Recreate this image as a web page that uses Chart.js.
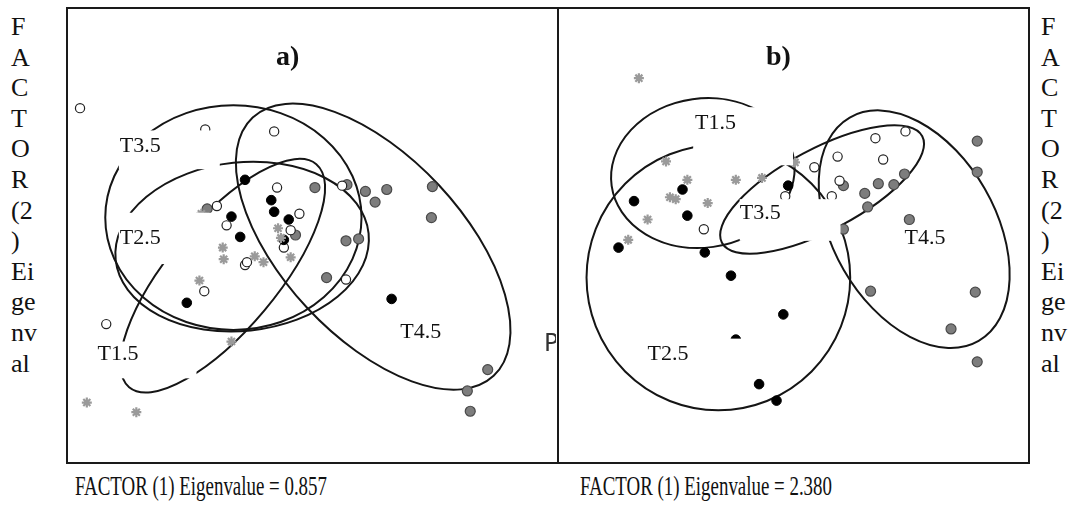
<!DOCTYPE html>
<html><head><meta charset="utf-8">
<script src="https://cdn.jsdelivr.net/npm/chart.js@4/dist/chart.umd.min.js"></script>
<style>
html,body{margin:0;padding:0;background:#fff;width:1086px;height:513px;overflow:hidden;font-family:'Liberation Serif','Times New Roman',serif;color:#111;}
canvas{position:absolute;}
#frame{position:absolute;left:66px;top:7px;width:960px;height:453px;border:2px solid #1a1a1a;z-index:5;}
#divider{position:absolute;left:557px;top:7px;width:2px;height:457px;background:#1a1a1a;z-index:5;}
.vcol{position:absolute;top:12px;font-size:26px;line-height:30.6px;white-space:pre;}
.xlab{position:absolute;top:470px;font-size:27px;line-height:32px;white-space:nowrap;transform:scaleX(0.70);transform-origin:left top;}
#pmark{position:absolute;left:544px;top:328px;width:12px;height:30px;overflow:hidden;font-family:'DejaVu Sans',sans-serif;font-size:24px;line-height:30px;color:#333;}
</style>
</head><body>
<canvas id="ca" width="491" height="455" style="left:67px;top:8px;"></canvas>
<canvas id="cb" width="471" height="455" style="left:558px;top:8px;"></canvas>
<div id="frame"></div><div id="divider"></div>
<div id="pmark">P</div>
<div class="vcol" id="vl" style="left:11px;"></div>
<div class="vcol" id="vr" style="left:1041px;"></div>
<div class="xlab" id="xa" style="left:75px;"></div>
<div class="xlab" id="xb" style="left:580px;"></div>
<script>
// ---------- axis texts ----------
const yAxisLetters = ['F','A','C','T','O','R','(2',')','Ei','ge','nv','al'];
const xAxisTitleA = 'FACTOR (1) Eigenvalue = 0.857';
const xAxisTitleB = 'FACTOR (1) Eigenvalue = 2.380';

// ---------- panel a) data (factor-score plane, plot units) ----------
const aT15 = [[131,250],[153,215],[154,203],[210,235],[213,225],[186,206],[195,200],[223,205],[129,181],[162,118],[13,55],[64,45]];
const aT25 = [[176,285],[203,264],[206,252],[221,244],[162,247],[171,226],[216,223],[116,158],[327,162]];
const aT35 = [[6,359],[135,337],[206,335],[209,277],[147,258],[157,238],[232,250],[223,233],[216,215],[176,197],[178,200],[276,279],[280,182],[134,170],[33,136]];
const aT45 = [[137,255],[248,277],[281,280],[300,273],[322,275],[310,262],[369,278],[368,246],[280,222],[293,224],[228,228],[260,184],[426,89],[405,67],[408,46]];

// ---------- panel b) data ----------
const bT15 = [[76,390],[104,304],[126,285],[108,267],[114,265],[147,261],[176,285],[203,287],[85,244],[65,223],[237,303]];
const bT25 = [[121,275],[71,263],[126,248],[55,215],[144,210],[171,186],[225,146],[176,120],[200,74],[218,57],[230,279]];
const bT35 = [[143,234],[227,268],[257,298],[281,309],[283,284],[275,268],[320,328],[328,306],[351,335]];
const bT45 = [[287,279],[323,281],[309,271],[339,280],[350,291],[312,257],[287,234],[355,244],[425,325],[425,293],[315,170],[423,169],[398,131],[425,97]];

// ---------- group ellipses (centre, semi-axes, angle in degrees) ----------
const aEllipseNames = ['T3.5','T2.5','T1.5','T4.5'];
const aEllipseCx = [164,173,153,308];
const aEllipseCy = [246,216,186,216];
const aEllipseRx = [132,131,150,182];
const aEllipseRy = [116,87,56,93];
const aEllipseAngle = [0,6,50,-47];

const bEllipseNames = ['T1.5','T2.5','T3.5','T4.5'];
const bEllipseCx = [142,158,265,360];
const bEllipseCy = [292,184,275,234];
const bEllipseRx = [95,136,117,133];
const bEllipseRy = [77,137,42,84];
const bEllipseAngle = [8,0,28,-60];

// ---------- group label annotations ----------
const aLabelText = ['T3.5','T2.5','T1.5','T4.5'];
const aLabelX = [47,47,24,336];
const aLabelY = [320,225,105,128];
const aLabelBox = [[46,150,336,296],[46,148,251,198],[20,126,118,80],null];

const bLabelText = ['T1.5','T3.5','T2.5','T4.5'];
const bLabelX = [134,180,85,350];
const bLabelY = [343,250,105,225];
const bLabelBox = [[132,235,360,300],[180,284,265,222],[85,184,121,80],null];

const panelTitles = ['a)','b)'];

// ---------- build ----------
document.getElementById('vl').textContent = yAxisLetters.join('\n');
document.getElementById('vr').textContent = yAxisLetters.join('\n');
document.getElementById('xa').textContent = xAxisTitleA;
document.getElementById('xb').textContent = xAxisTitleB;

const xy = arr => arr.map(([x,y]) => ({x,y}));

function overlay(ell, labels, title){
  return {
    id:'overlay',
    beforeDatasetsDraw(chart){
      const {ctx, scales:{x,y}} = chart;
      ctx.save();
      ctx.strokeStyle = '#151515'; ctx.lineWidth = 2;
      ell.cx.forEach((cxv,i)=>{
        const cx = x.getPixelForValue(cxv), cy = y.getPixelForValue(ell.cy[i]);
        const rx = Math.abs(x.getPixelForValue(cxv+ell.rx[i]) - cx);
        const ry = Math.abs(y.getPixelForValue(ell.cy[i]+ell.ry[i]) - cy);
        ctx.beginPath();
        ctx.ellipse(cx, cy, rx, ry, -ell.angle[i]*Math.PI/180, 0, Math.PI*2);
        ctx.stroke();
      });
      ctx.restore();
    },
    afterDatasetsDraw(chart){
      const {ctx, scales:{x,y}} = chart;
      ctx.save();
      ctx.fillStyle = '#fff';
      labels.box.forEach(b=>{
        if(!b) return;
        const x1 = x.getPixelForValue(b[0]), x2 = x.getPixelForValue(b[1]);
        const y1 = y.getPixelForValue(b[2]), y2 = y.getPixelForValue(b[3]);
        ctx.fillRect(x1, y1, x2-x1, y2-y1);
      });
      ctx.fillStyle = '#111';
      ctx.font = "22px 'Liberation Serif', 'Times New Roman', serif";
      ctx.textBaseline = 'middle'; ctx.textAlign = 'left';
      labels.text.forEach((t,i)=>{
        ctx.fillText(t, x.getPixelForValue(labels.x[i]), y.getPixelForValue(labels.y[i]));
      });
      ctx.font = "bold 28px 'Liberation Serif', 'Times New Roman', serif";
      ctx.textAlign = 'center';
      ctx.fillText(title, x.getPixelForValue(220), y.getPixelForValue(411));
      ctx.restore();
    }
  };
}

function makeChart(id, maxX, groups, ell, labels, title){
  const styles = [
    {pointStyle:'star', radius:5, bg:'#a0a0a0', border:'#9a9a9a', bw:2.2},
    {pointStyle:'circle', radius:4.8, bg:'#000', border:'#000', bw:1},
    {pointStyle:'circle', radius:4.6, bg:'#fff', border:'#222', bw:1.2},
    {pointStyle:'circle', radius:5, bg:'#7d7d7d', border:'#4a4a4a', bw:1.2}
  ];
  new Chart(document.getElementById(id), {
    type:'scatter',
    data:{datasets: groups.map((g,i)=>({
      label:['T1.5','T2.5','T3.5','T4.5'][i],
      data: xy(g),
      pointStyle: styles[i].pointStyle,
      pointRadius: styles[i].radius,
      pointBackgroundColor: styles[i].bg,
      pointBorderColor: styles[i].border,
      pointBorderWidth: styles[i].bw,
      clip:false
    }))},
    options:{
      responsive:false, animation:false, devicePixelRatio:1,
      layout:{padding:0},
      scales:{
        x:{type:'linear', min:0, max:maxX, display:false},
        y:{type:'linear', min:0, max:455, display:false}
      },
      plugins:{legend:{display:false}, tooltip:{enabled:false}}
    },
    plugins:[overlay(ell, labels, title)]
  });
}

makeChart('ca', 491, [aT15,aT25,aT35,aT45],
  {cx:aEllipseCx, cy:aEllipseCy, rx:aEllipseRx, ry:aEllipseRy, angle:aEllipseAngle},
  {text:aLabelText, x:aLabelX, y:aLabelY, box:aLabelBox}, panelTitles[0]);
makeChart('cb', 471, [bT15,bT25,bT35,bT45],
  {cx:bEllipseCx, cy:bEllipseCy, rx:bEllipseRx, ry:bEllipseRy, angle:bEllipseAngle},
  {text:bLabelText, x:bLabelX, y:bLabelY, box:bLabelBox}, panelTitles[1]);
</script>
</body></html>
